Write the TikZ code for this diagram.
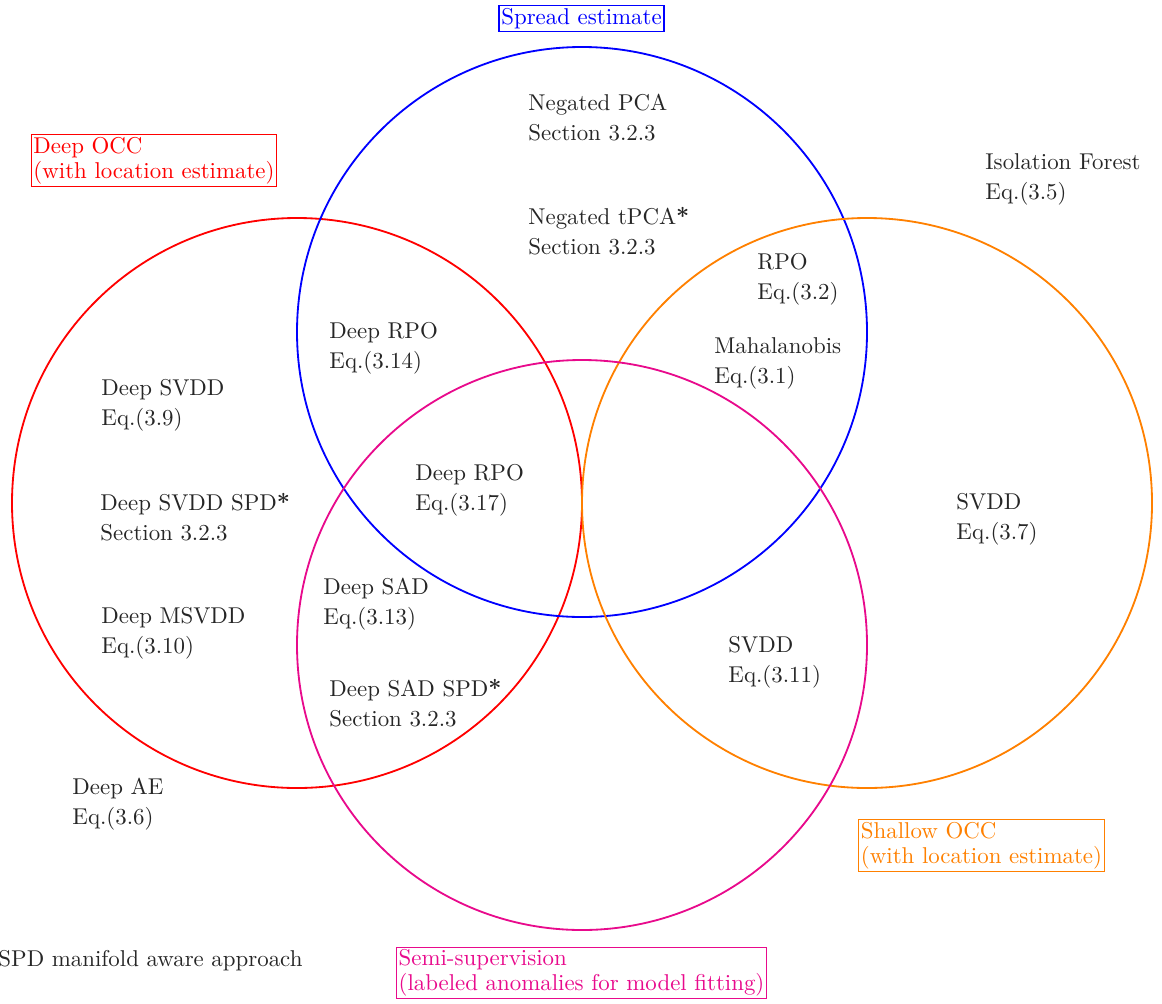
\documentclass[tikz,border=0pt]{standalone}
\usepackage{xcolor}
\definecolor{semi}{RGB}{232,10,140}
\definecolor{occorange}{RGB}{255,128,0}
\newcommand{\spdmark}{\textbf{*}}
\begin{document}
\begin{tikzpicture}[x=0.437pt,y=-0.437pt,
  ring/.style={line width=0.8pt},
  lbl/.style={anchor=base west,align=left,inner sep=0pt,font=\fontsize{10}{12.7}\selectfont,text=black!85},
  tag/.style={draw,align=left,inner sep=1pt,line width=0.5pt,font=\fontsize{10}{10.9}\selectfont}]
\useasboundingbox (0,0) rectangle (1162,1003);
% circles
\draw[ring,red] (297,503) circle[radius=285];
\draw[ring,blue] (582,332) circle[radius=285];
\draw[ring,occorange] (867,503) circle[radius=285];
\draw[ring,semi] (582,645) circle[radius=285];
% boxed tags
\node[tag,blue,text=blue] (spread) at (581.5,18.5) {Spread estimate};
\node[tag,red,text=red] (deepocc) at (154,160.5) {Deep OCC\\(with location estimate)};
\node[tag,occorange,text=occorange] (shallow) at (981.5,845.5) {Shallow OCC\\(with location estimate)};
\node[tag,semi,text=semi] (semisup) at (581.5,973) {Semi-supervision\\(labeled anomalies for model fitting)};
% method labels (anchor = baseline of second line)
\node[lbl] (npca) at (528,140) {Negated PCA\\Section 3.2.3};
\node[lbl] (ntpca) at (528,254) {Negated tPCA\spdmark\\Section 3.2.3};
\node[lbl] (iforest) at (985,199) {Isolation Forest\\Eq.(3.5)};
\node[lbl] (rpo) at (757,299) {RPO\\Eq.(3.2)};
\node[lbl] (maha) at (714,383) {Mahalanobis\\Eq.(3.1)};
\node[lbl] (drpoa) at (329,368) {Deep RPO\\Eq.(3.14)};
\node[lbl] (dsvdd) at (101,425) {Deep SVDD\\Eq.(3.9)};
\node[lbl] (drpob) at (415,510) {Deep RPO\\Eq.(3.17)};
\node[lbl] (dsvddspd) at (100,540) {Deep SVDD SPD\spdmark\\Section 3.2.3};
\node[lbl] (svdda) at (956,539) {SVDD\\Eq.(3.7)};
\node[lbl] (dsad) at (323,624) {Deep SAD\\Eq.(3.13)};
\node[lbl] (dmsvdd) at (101,653) {Deep MSVDD\\Eq.(3.10)};
\node[lbl] (svddb) at (728,682) {SVDD\\Eq.(3.11)};
\node[lbl] (dsadspd) at (329,726) {Deep SAD SPD\spdmark\\Section 3.2.3};
\node[lbl] (dae) at (72,824) {Deep AE\\Eq.(3.6)};
\node[lbl] (spdnote) at (-2,966) {SPD manifold aware approach};
\end{tikzpicture}
\end{document}
